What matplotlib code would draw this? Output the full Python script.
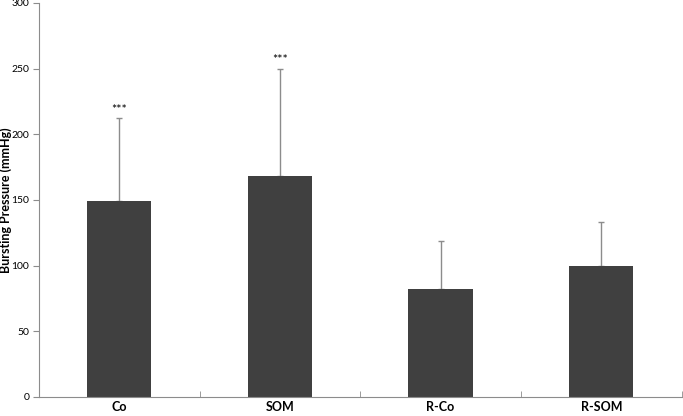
import matplotlib
matplotlib.use("Agg")
import matplotlib.pyplot as plt
import numpy as np

plt.rcParams['font.family'] = ['Lato', 'DejaVu Sans']

groups = ['Co', 'SOM', 'R-Co', 'R-SOM']
means = [149, 168, 82, 100]
errors = [63, 82, 37, 33]
stars = ['***', '***', '', '']

fig = plt.figure(figsize=(6.83, 4.16), dpi=100)
ax = fig.add_axes([0.057, 0.046, 0.941, 0.947])

x = np.arange(len(groups))
ax.bar(x, means, width=0.4, color='#404040', zorder=2)
ax.errorbar(x, means, yerr=[np.zeros(len(x)), errors], fmt='none',
            ecolor='#8c8c8c', elinewidth=1, capsize=2, capthick=1, zorder=1)

for xi, m, e, s in zip(x, means, errors, stars):
    if s:
        ax.text(xi, m + e + 2, s, ha='center', va='bottom', fontsize=9)

ax.set_xlim(-0.5, len(groups) - 0.5)
ax.set_ylim(0, 300)
ax.set_yticks(np.arange(0, 301, 50))
ax.set_xticks(x)
ax.set_xticklabels(groups, fontweight='bold', fontsize=9)
ax.set_xticks(np.arange(-0.5, len(groups), 1), minor=True)
ax.tick_params(axis='x', which='major', length=0, pad=3)
ax.tick_params(axis='x', which='minor', length=4, color='#8c8c8c', direction='in')
ax.tick_params(axis='y', labelsize=7.5, length=4, color='#8c8c8c', direction='out', pad=3)
ax.set_ylabel('Bursting Pressure (mmHg)', fontweight='bold', fontsize=9, va='center')
ax.yaxis.set_label_coords(-0.0525, 0.5)

for side in ['top', 'right']:
    ax.spines[side].set_visible(False)
for side in ['left', 'bottom']:
    ax.spines[side].set_color('#8c8c8c')

fig.savefig('out.png', dpi=100)
